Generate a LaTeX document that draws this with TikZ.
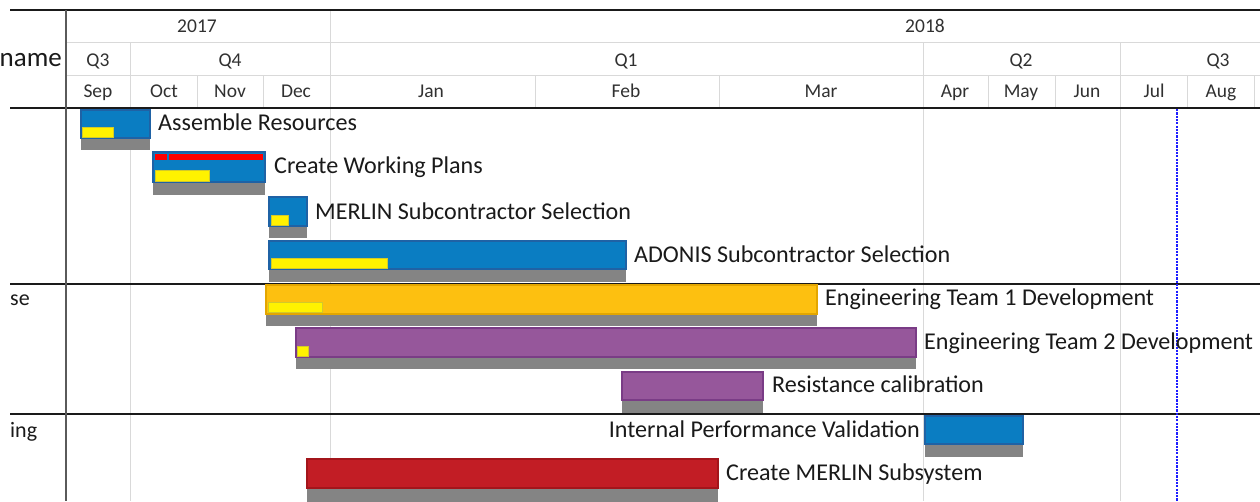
\documentclass[tikz,border=0pt]{standalone}
\usepackage{fontspec}
\setmainfont{Carlito}
\definecolor{bblue}{HTML}{0A7DC2}
\definecolor{bbluedk}{HTML}{1F62A5}
\definecolor{borange}{HTML}{FDC010}
\definecolor{borangedk}{HTML}{E3A600}
\definecolor{bpurple}{HTML}{96579B}
\definecolor{bpurpledk}{HTML}{7A3C86}
\definecolor{bred}{HTML}{C21D25}
\definecolor{breddk}{HTML}{A3151B}
\definecolor{bgray}{HTML}{848484}
\definecolor{gridgray}{HTML}{D9D9D9}
\definecolor{rulegray}{HTML}{5A5A5A}
\definecolor{txt}{HTML}{1A1A1A}
\definecolor{today}{HTML}{1E1EFF}
\tikzset{
  bar/.style={anchor=north west, inner sep=0pt, outer sep=0pt, line width=1.1pt},
  bluebar/.style={bar, fill=bblue, draw=bbluedk},
  orangebar/.style={bar, fill=borange, draw=borangedk},
  purplebar/.style={bar, fill=bpurple, draw=bpurpledk},
  redbar/.style={bar, fill=bred, draw=breddk},
  graybar/.style={anchor=north west, inner sep=0pt, outer sep=0pt, fill=bgray, draw=none},
  progress/.style={anchor=north west, inner sep=0pt, outer sep=0pt, fill=yellow, draw=yellow!80!black, line width=0.5pt},
  strip/.style={anchor=north west, inner sep=0pt, outer sep=0pt, fill=red, draw=none},
  lbl/.style={anchor=base west, inner sep=0pt, text=txt, font=\fontsize{24.1}{28}\selectfont},
  hdr/.style={anchor=base, inner sep=0pt, text=txt!90, font=\fontsize{19.5}{23}\selectfont},
  side/.style={inner sep=0pt, text=txt, font=\fontsize{22}{26}\selectfont},
  grid/.style={draw=gridgray, line width=1pt},
  heavy/.style={draw=txt, line width=2pt},
}
\begin{document}
\begin{tikzpicture}[x=1pt,y=-1pt]
\useasboundingbox (0,0) rectangle (1260,501);
\clip (0,0) rectangle (1260,501);
\fill[white] (0,0) rectangle (1260,501);
% header grid
\draw[grid] (66,42) -- (1260,42);
\draw[grid] (66,75) -- (1260,75);
\draw[grid] (330,10) -- (330,501);
\foreach \x in {130,923,1120} \draw[grid] (\x,42) -- (\x,501);
\foreach \x in {197,263,535,719,988,1055,1187,1254} \draw[grid] (\x,75) -- (\x,108);
% heavy rules
\draw[heavy] (10,10) -- (1260,10);
\draw[heavy] (10,108) -- (1260,108);
\draw[heavy] (10,284) -- (1260,284);
\draw[heavy] (10,414) -- (1260,414);
\draw[draw=rulegray, line width=1.6pt] (66,10) -- (66,501);
% header text
\node[hdr] (y17) at (197,32) {2017};
\node[hdr] (y18) at (925,32) {2018};
\node[hdr] (q3a) at (98,66) {Q3};
\node[hdr] (q4) at (230,66) {Q4};
\node[hdr] (q1) at (626,66) {Q1};
\node[hdr] (q2) at (1021,66) {Q2};
\node[hdr] (q3b) at (1218,66) {Q3};
\node[hdr] (sep) at (98,97) {Sep};
\node[hdr] (oct) at (164,97) {Oct};
\node[hdr] (nov) at (230,97) {Nov};
\node[hdr] (dec) at (296,97) {Dec};
\node[hdr] (jan) at (431,97) {Jan};
\node[hdr] (feb) at (626,97) {Feb};
\node[hdr] (mar) at (821,97) {Mar};
\node[hdr] (apr) at (955,97) {Apr};
\node[hdr] (may) at (1021,97) {May};
\node[hdr] (jun) at (1087,97) {Jun};
\node[hdr] (jul) at (1154,97) {Jul};
\node[hdr] (aug) at (1221,97) {Aug};
% side labels
\node[side, anchor=base east, font=\fontsize{27}{31}\selectfont] (name) at (62,66) {name};
\node[side, anchor=base west] (grp1) at (10,305) {se};
\node[side, anchor=base west] (grp2) at (10,437) {ing};
% today line
\coordinate (todaytop) at (1177,109);
\coordinate (todaybot) at (1177,501);
\draw[today, line width=2.6pt, dash pattern=on 2.2pt off 1.1pt] (todaytop) -- (todaybot);
% 1 Assemble Resources
\node[graybar, minimum width=69pt, minimum height=13pt] (ar-g) at (81,137) {};
\node[bluebar, minimum width=69pt, minimum height=28pt] (ar) at (81,110) {};
\node[progress, minimum width=31pt, minimum height=10pt] (ar-p) at (82,127) {};
\node[lbl] (ar-l) at (158,130) {Assemble Resources};
% 2 Create Working Plans
\node[graybar, minimum width=112pt, minimum height=13pt] (cw-g) at (153,182) {};
\node[bluebar, minimum width=112pt, minimum height=30pt] (cw) at (153,152) {};
\node[strip, minimum width=12pt, minimum height=6pt] (cw-s1) at (155,154) {};
\node[strip, minimum width=94pt, minimum height=6pt] (cw-s2) at (169,154) {};
\node[progress, minimum width=54pt, minimum height=11pt] (cw-p) at (155,170) {};
\node[lbl] (cw-l) at (274,173) {Create Working Plans};
% 3 MERLIN Subcontractor Selection
\node[graybar, minimum width=38pt, minimum height=12pt] (ms-g) at (269,226) {};
\node[bluebar, minimum width=38pt, minimum height=29pt] (ms) at (269,197) {};
\node[progress, minimum width=17pt, minimum height=10pt] (ms-p) at (271,215) {};
\node[lbl] (ms-l) at (315,219) {MERLIN Subcontractor Selection};
% 4 ADONIS Subcontractor Selection
\node[graybar, minimum width=357pt, minimum height=13pt] (as-g) at (269,269) {};
\node[bluebar, minimum width=357pt, minimum height=28pt] (as) at (269,241) {};
\node[progress, minimum width=116pt, minimum height=10pt] (as-p) at (271,258) {};
\node[lbl] (as-l) at (634,262) {ADONIS Subcontractor Selection};
% 5 Engineering Team 1
\node[graybar, minimum width=551pt, minimum height=13pt] (e1-g) at (266,313) {};
\node[orangebar, minimum width=551pt, minimum height=29pt] (e1) at (266,285) {};
\node[progress, minimum width=54pt, minimum height=10pt] (e1-p) at (268,302) {};
\node[lbl] (e1-l) at (825,305) {Engineering Team 1 Development};
% 6 Engineering Team 2
\node[graybar, minimum width=620pt, minimum height=12pt] (e2-g) at (296,357) {};
\node[purplebar, minimum width=620pt, minimum height=29pt] (e2) at (296,328) {};
\node[progress, minimum width=11pt, minimum height=10pt] (e2-p) at (297,346) {};
\node[lbl] (e2-l) at (924,349) {Engineering Team 2 Development};
% 7 Resistance calibration
\node[graybar, minimum width=141pt, minimum height=13pt] (rc-g) at (622,400) {};
\node[purplebar, minimum width=141pt, minimum height=28pt] (rc) at (622,372) {};
\node[lbl] (rc-l) at (772,392) {Resistance calibration};
% 8 Internal Performance Validation
\node[graybar, minimum width=98pt, minimum height=13pt] (ip-g) at (925,444) {};
\node[bluebar, minimum width=98pt, minimum height=28pt] (ip) at (925,416) {};
\node[lbl, anchor=base east] (ip-l) at (920,437) {Internal Performance Validation};
% 9 Create MERLIN Subsystem
\node[graybar, minimum width=411pt, minimum height=15pt] (cm-g) at (307,488) {};
\node[redbar, minimum width=411pt, minimum height=29pt] (cm) at (307,459) {};
\node[lbl] (cm-l) at (726,480) {Create MERLIN Subsystem};
\end{tikzpicture}
\end{document}
